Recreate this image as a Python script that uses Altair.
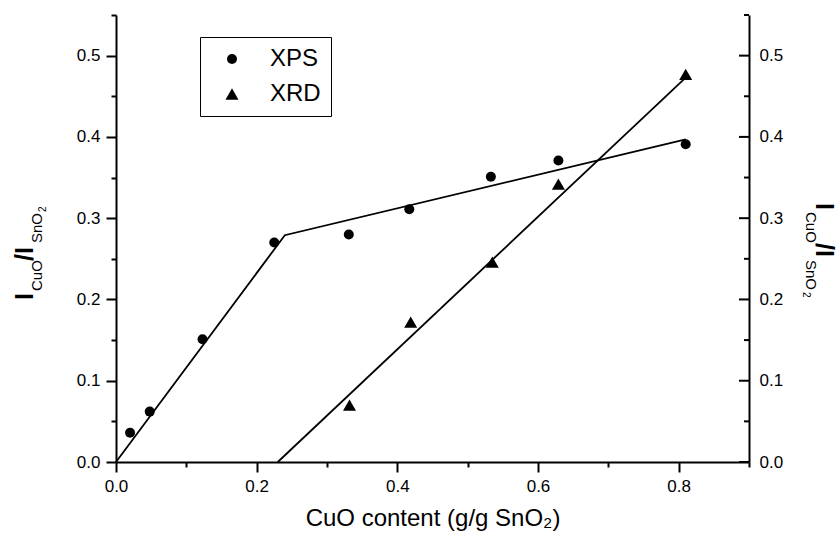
import altair as alt
import pandas as pd

# ---- data ----
xps_x = [0.020, 0.048, 0.123, 0.225, 0.331, 0.417, 0.533, 0.629, 0.810]
xps_y = [0.036, 0.062, 0.151, 0.270, 0.280, 0.311, 0.351, 0.371, 0.391]
xrd_x = [0.332, 0.419, 0.535, 0.629, 0.810]
xrd_y = [0.070, 0.172, 0.246, 0.342, 0.477]
xps_fit_x = [0.0, 0.240, 0.810]
xps_fit_y = [0.0, 0.279, 0.397]
xrd_fit_x = [0.230, 0.810]
xrd_fit_y = [0.0, 0.473]
series_names = ["XPS", "XRD"]
x_ticks = [0.0, 0.1, 0.2, 0.3, 0.4, 0.5, 0.6, 0.7, 0.8, 0.9]
y_ticks = [0.0, 0.05, 0.1, 0.15, 0.2, 0.25, 0.3, 0.35, 0.4, 0.45, 0.5, 0.55]
y_major = [0.0, 0.1, 0.2, 0.3, 0.4, 0.5]
y_minor = [0.05, 0.15, 0.25, 0.35, 0.45, 0.55]

pts = pd.DataFrame({
    "x": xps_x + xrd_x,
    "y": xps_y + xrd_y,
    "series": ["XPS"] * len(xps_x) + ["XRD"] * len(xrd_x),
})
fits = pd.DataFrame({
    "x": xps_fit_x + xrd_fit_x,
    "y": xps_fit_y + xrd_fit_y,
    "series": ["XPS"] * len(xps_fit_x) + ["XRD"] * len(xrd_fit_x),
})
ymaj = pd.DataFrame({"v": y_major})
ymin = pd.DataFrame({"v": y_minor})
one = pd.DataFrame({"k": [0]})

W, H = 633, 447
FONT = "Liberation Sans"

xscale = alt.Scale(domain=[0, 0.9], nice=False, zero=False)
yscale = alt.Scale(domain=[0, 0.55], nice=False, zero=False)

common = dict(
    domainColor="black", domainWidth=2, tickColor="black", tickWidth=2,
    labelFont=FONT, labelFontSize=17, labelColor="black", grid=False,
    labelFlush=False, labelOverlap=False,
)

x_axis = alt.Axis(
    values=x_ticks,
    labelExpr="round(datum.value*10) % 2 == 0 ? format(datum.value, '.1f') : ''",
    tickSize={"condition": {"test": "round(datum.value*10) % 2 == 0", "value": 10}, "value": 5},
    labelPadding=6,
    title="CuO content (g/g SnO₂)", titleFont=FONT, titleFontSize=24,
    titleFontWeight="normal", titleColor="black", titlePadding=12,
    **common,
)
y_axis = alt.Axis(
    values=y_ticks, orient="left",
    labelExpr="round(datum.value*20) % 2 == 0 ? format(datum.value, '.1f') : ''",
    tickSize={"condition": {"test": "round(datum.value*20) % 2 == 0", "value": 10}, "value": 5},
    labelPadding=6, title=None,
    **common,
)
y_axis_right = alt.Axis(
    values=y_major, orient="right", ticks=False,
    format=".1f", labelPadding=10, title=None,
    **common,
)

X = alt.X("x:Q", scale=xscale, axis=x_axis)
Y = alt.Y("y:Q", scale=yscale, axis=y_axis)

legend = alt.Legend(
    title=None, orient="none", legendX=84, legendY=22,
    strokeColor="black", padding=10, rowPadding=11,
    labelFont=FONT, labelFontSize=24, labelColor="black",
    symbolFillColor="black", symbolStrokeColor="black",
    symbolOffset=10, labelOffset=26, fillColor="white",
)

points = alt.Chart(pts).mark_point(filled=True, color="black", opacity=1).encode(
    x=X, y=Y,
    shape=alt.Shape("series:N", scale=alt.Scale(domain=series_names, range=["circle", "triangle-up"]), legend=legend),
    size=alt.Size("series:N", scale=alt.Scale(domain=series_names, range=[100, 170]), legend=legend),
)

lines = alt.Chart(fits).mark_line(color="black", strokeWidth=1.8).encode(
    x=X, y=Y, detail="series:N",
)

maj_ticks = alt.Chart(ymaj).mark_rule(color="black", strokeWidth=2).encode(
    y=alt.Y("v:Q", scale=yscale, axis=y_axis), x=alt.value(W - 10), x2=alt.value(W),
)
min_ticks = alt.Chart(ymin).mark_rule(color="black", strokeWidth=2).encode(
    y=alt.Y("v:Q", scale=yscale, axis=y_axis), x=alt.value(W - 5), x2=alt.value(W),
)

def piece(text, x, y, size, angle, bold=False):
    return alt.Chart(one).mark_text(
        text=text, font=FONT, fontSize=size, angle=angle, align="left",
        baseline="alphabetic", color="black",
        fontWeight="bold" if bold else "normal",
    ).encode(x=alt.value(x), y=alt.value(y))

left_title = [
    piece("I", -83, 285, 25, 270, True),
    piece("CuO", -74, 276, 15, 270),
    piece("/I", -83, 246, 25, 270, True),
    piece("SnO", -74, 228, 15, 270),
    piece("2", -70, 197, 10, 270),
]
right_title = [
    piece("I", 700, 188, 25, 90, True),
    piece("CuO", 690, 197, 15, 90),
    piece("/I", 700, 228, 25, 90, True),
    piece("SnO", 690, 245, 15, 90),
    piece("2", 687, 277, 10, 90),
]

main = alt.layer(lines, points, maj_ticks, min_ticks, *left_title, *right_title)

right = alt.Chart(ymaj).mark_point(opacity=0).encode(
    y=alt.Y("v:Q", scale=yscale, axis=y_axis_right),
)

chart = alt.layer(main, right).resolve_scale(y="independent").resolve_axis(y="independent").properties(
    width=W, height=H,
    autosize=alt.AutoSizeParams(type="none"),
    padding={"left": 116, "top": 15, "right": 90, "bottom": 74},
    background="white",
).configure_view(stroke=None)

chart.save("out.html", embed_options={"renderer": "svg", "actions": False})
